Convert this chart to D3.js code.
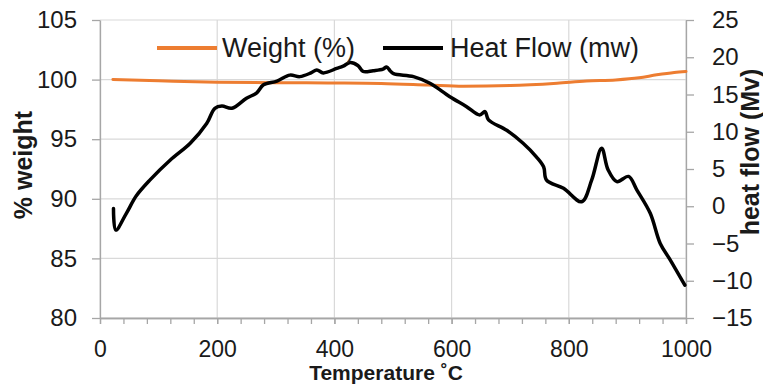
<!DOCTYPE html>
<html>
<head>
<meta charset="utf-8">
<script src="https://cdn.jsdelivr.net/npm/d3@7"></script>
<style>
  html, body { margin: 0; padding: 0; background: #fff; }
  svg text { font-family: "Liberation Sans Narrow", "Liberation Sans", sans-serif; fill: #1a1a1a; }
</style>
</head>
<body>
<svg id="chart" width="763" height="385"></svg>
<script>
// Thermogravimetric run: temperature (°C) vs weight (%) and heat flow
const weightTemp = [22, 100, 200, 300, 400, 480, 560, 620, 700, 780, 830, 880, 920, 950, 980, 1000];
const weightPct  = [100.01, 99.9, 99.78, 99.74, 99.72, 99.68, 99.55, 99.45, 99.5, 99.7, 99.88, 99.97, 100.15, 100.4, 100.6, 100.68];

const heatTemp = [23, 27, 45, 62, 85, 120, 154, 182, 196, 208, 225, 250, 267, 279, 302, 324, 341, 360, 370, 381, 404, 415, 427, 440, 449, 466, 483, 489, 495, 501, 535, 563, 597, 625, 648, 657, 663, 694, 722, 745, 757, 762, 791, 822, 839, 856, 867, 882, 902, 916, 939, 956, 973, 998];
const heatFlow = [-0.3, -3.2, -0.95, 1.4, 3.5, 6.2, 8.45, 11.1, 13.15, 13.45, 13.15, 14.5, 15.2, 16.3, 16.8, 17.6, 17.4, 17.9, 18.3, 17.9, 18.5, 18.8, 19.3, 18.9, 18.1, 18.2, 18.4, 18.7, 18.2, 17.8, 17.4, 16.5, 14.7, 13.4, 12.25, 12.7, 11.6, 10.2, 8.45, 6.6, 5.3, 3.5, 2.4, 0.6, 3.5, 7.8, 4.9, 3.3, 4.0, 2.2, -0.95, -5, -7.2, -10.6];

const xTicks = [0, 200, 400, 600, 800, 1000];
const xMinorTicks = d3.range(0, 1001, 40);
const leftTicks = [80, 85, 90, 95, 100, 105];
const rightTicks = [-15, -10, -5, 0, 5, 10, 15, 20, 25];

const seriesNames = ["Weight (%)", "Heat Flow (mw)"];
const seriesColors = ["#ed7d31", "#000000"];

const svg = d3.select("#chart");
const plot = { left: 100, right: 686, top: 20, bottom: 318 };

const x = d3.scaleLinear().domain([0, 1000]).range([plot.left, plot.right]);
const yL = d3.scaleLinear().domain([80, 105]).range([plot.bottom, plot.top]);
const yR = d3.scaleLinear().domain([-15, 25]).range([plot.bottom, plot.top]);

const gridColor = "#d9d9d9";
const axisColor = "#a6a6a6";

// gridlines
svg.append("g").selectAll("line").data(leftTicks).join("line")
  .attr("x1", plot.left).attr("x2", plot.right)
  .attr("y1", d => yL(d)).attr("y2", d => yL(d))
  .attr("stroke", gridColor).attr("stroke-width", 1.2);
svg.append("g").selectAll("line").data(xTicks).join("line")
  .attr("x1", d => x(d)).attr("x2", d => x(d))
  .attr("y1", plot.top).attr("y2", plot.bottom)
  .attr("stroke", gridColor).attr("stroke-width", 1.2);

// axes
function styleAxis(g, size) {
  g.select(".domain").attr("stroke", axisColor).attr("stroke-width", 1.3);
  g.selectAll(".tick line").attr("stroke", axisColor).attr("stroke-width", 1.3);
  g.selectAll("text").attr("fill", "#1a1a1a").style("font-size", size + "px")
    .style("font-family", '"Liberation Sans Narrow", "Liberation Sans", sans-serif');
}

const xMinor = svg.append("g").attr("transform", `translate(0,${plot.bottom})`)
  .call(d3.axisBottom(x).tickValues(xMinorTicks).tickFormat("").tickSize(6).tickSizeOuter(0));
styleAxis(xMinor, 23);

const xAxis = svg.append("g").attr("transform", `translate(0,${plot.bottom})`)
  .call(d3.axisBottom(x).tickValues(xTicks).tickFormat(d3.format("d")).tickSize(6).tickSizeOuter(0).tickPadding(17));
styleAxis(xAxis, 23);

const leftAxis = svg.append("g").attr("transform", `translate(${plot.left},0)`)
  .call(d3.axisLeft(yL).tickValues(leftTicks).tickFormat(d3.format("d")).tickSize(8).tickSizeOuter(0).tickPadding(15));
styleAxis(leftAxis, 24);

const rightAxis = svg.append("g").attr("transform", `translate(${plot.right},0)`)
  .call(d3.axisRight(yR).tickValues(rightTicks).tickFormat(d3.format("d")).tickSize(8).tickSizeOuter(0).tickPadding(18));
styleAxis(rightAxis, 24);

// series
const weightData = weightTemp.map((t, i) => [t, weightPct[i]]);
const heatData = heatTemp.map((t, i) => [t, heatFlow[i]]);

svg.append("path").datum(weightData)
  .attr("fill", "none").attr("stroke", seriesColors[0]).attr("stroke-width", 3)
  .attr("stroke-linejoin", "round").attr("stroke-linecap", "round")
  .attr("d", d3.line().x(d => x(d[0])).y(d => yL(d[1])).curve(d3.curveMonotoneX));

svg.append("path").datum(heatData)
  .attr("fill", "none").attr("stroke", seriesColors[1]).attr("stroke-width", 3.5)
  .attr("stroke-linejoin", "round").attr("stroke-linecap", "round")
  .attr("d", d3.line().x(d => x(d[0])).y(d => yR(d[1])).curve(d3.curveCatmullRom.alpha(0.5)));

// legend
const legend = svg.append("g");
const legendItems = [
  { x0: 157, x1: 217, tx: 222 },
  { x0: 383, x1: 443, tx: 450 }
];
legendItems.forEach((it, i) => {
  legend.append("line").attr("x1", it.x0).attr("x2", it.x1).attr("y1", 48).attr("y2", 48)
    .attr("stroke", seriesColors[i]).attr("stroke-width", 4);
  legend.append("text").attr("x", it.tx).attr("y", 48).attr("dy", "0.35em")
    .style("font-size", "27px").text(seriesNames[i]);
});

// axis titles
svg.append("text").attr("x", 386).attr("y", 380).attr("text-anchor", "middle")
  .style("font-size", "21px").style("font-weight", "bold").text("Temperature  ˚C");

svg.append("text").attr("transform", "translate(32,165) rotate(-90)").attr("text-anchor", "middle")
  .style("font-size", "25px").style("font-weight", "bold").text("% weight");

svg.append("text").attr("transform", "translate(759,152) rotate(-90)").attr("text-anchor", "middle")
  .style("font-size", "25px").style("font-weight", "bold").text("heat flow (Mv)");
</script>
</body>
</html>
